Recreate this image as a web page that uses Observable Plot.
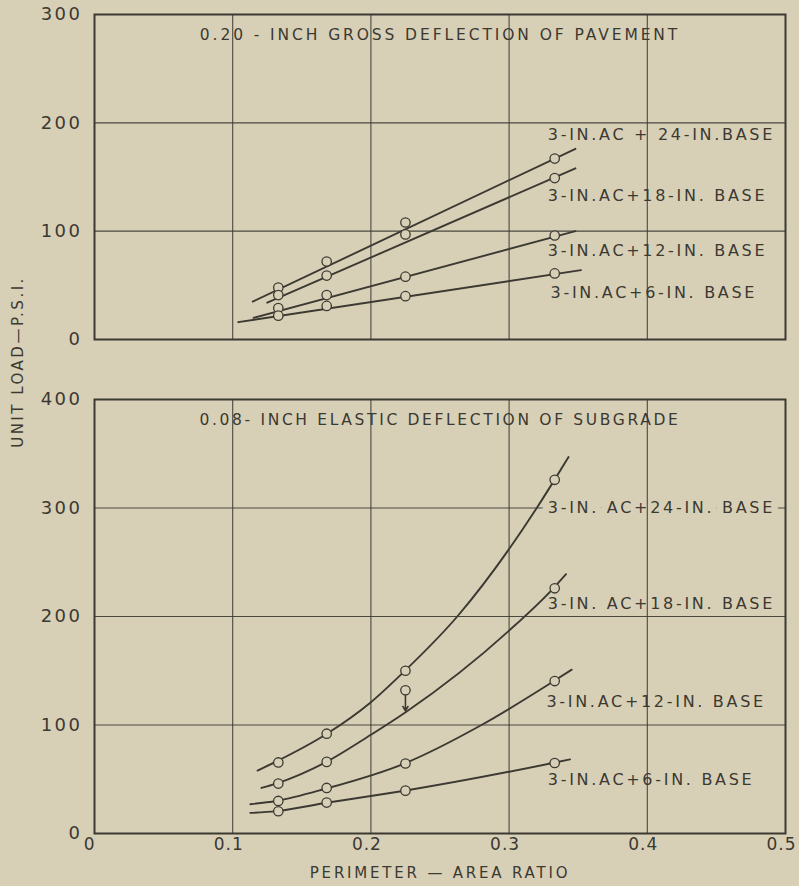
<!DOCTYPE html>
<html><head><meta charset="utf-8">
<script src="https://cdn.jsdelivr.net/npm/d3@7"></script>
<script src="https://cdn.jsdelivr.net/npm/@observablehq/plot@0.6"></script>
<style>
body{margin:0;background:#d8d0b6;}
#wrap{position:relative;width:799px;height:886px;background:#d8d0b6;font-family:"DejaVu Sans",sans-serif;color:#3b3932;overflow:hidden}
#ylab{position:absolute;left:18px;top:362px;transform:translate(-50%,-50%) rotate(-90deg);white-space:nowrap;font-size:15px;letter-spacing:2.5px}
#topPanel{position:absolute;left:0;top:0}
#botPanel{position:absolute;left:0;top:360px}
</style></head><body>
<div id="wrap"><div id="topPanel"></div><div id="botPanel"></div><div id="ylab">UNIT LOAD—P.S.I.</div></div>
<script>
// ---- data ----
const series = ["24", "18", "12", "6"];
const ratios = [0.133, 0.168, 0.225, 0.333];

// 0.20-inch gross deflection of pavement: observed points
const gross24 = [48, 72, 108, 167];
const gross18 = [41, 59, 97, 149];
const gross12 = [29, 41, 58, 96];
const gross6  = [22, 31, 40, 61];
// fitted lines (x, y)
const grossFit24 = [[0.1145, 35], [0.348, 176]];
const grossFit18 = [[0.125, 34], [0.348, 158]];
const grossFit12 = [[0.115, 20], [0.348, 100]];
const grossFit6  = [[0.104, 16], [0.352, 64]];
const grossLabels = ["3-IN.AC + 24-IN.BASE", "3-IN.AC+18-IN. BASE", "3-IN.AC+12-IN. BASE", "3-IN.AC+6-IN. BASE"];
const grossLabelX = [0.328, 0.328, 0.328, 0.330];
const grossLabelY = [189, 133, 82, 43];

// 0.08-inch elastic deflection of subgrade: observed points
const elastic24 = [65.5, 92, 150, 326];
const elastic18 = [46, 66, 132, 226];
const elastic12 = [30, 42, 64.5, 140.5];
const elastic6  = [20.5, 28.5, 39.5, 65];
// fitted curves (x, y)
const elasticFit24 = [[0.118, 58], [0.131, 66], [0.167, 91], [0.2, 121], [0.223, 148], [0.2625, 200], [0.32, 300], [0.3324, 325], [0.343, 347]];
const elasticFit18 = [[0.1208, 42], [0.1315, 46], [0.1678, 66], [0.2, 91], [0.2254, 112], [0.3, 187], [0.332, 226], [0.3412, 239]];
const elasticFit12 = [[0.1128, 27], [0.1315, 30], [0.1678, 41.5], [0.2242, 64.5], [0.28, 100], [0.3324, 140.5], [0.3453, 151]];
const elasticFit6  = [[0.1128, 19], [0.1315, 20.6], [0.1678, 28.3], [0.2242, 39.4], [0.3324, 65.2], [0.3441, 68.3]];
const elasticLabels = ["3-IN. AC+24-IN. BASE", "3-IN. AC+18-IN. BASE", "3-IN.AC+12-IN. BASE", "3-IN.AC+6-IN. BASE"];
const elasticLabelX = [0.328, 0.328, 0.327, 0.328];
const elasticLabelY = [300, 212, 121, 49];
// correction arrow on the 18-in series (from plotted point down to the curve)
const arrowX = [0.225];
const arrowFrom = [127];
const arrowTo = [113];

const xTicks = [0, 0.1, 0.2, 0.3, 0.4, 0.5];
const grossYTicks = [0, 100, 200, 300];
const elasticYTicks = [0, 100, 200, 300, 400];
const titleTop = "0.20 - INCH GROSS DEFLECTION OF PAVEMENT";
const titleBottom = "0.08- INCH ELASTIC DEFLECTION OF SUBGRADE";
const xLabel = "PERIMETER — AREA RATIO";

// ---- build tables ----
const BG = "#d8d0b6", INK = "#3b3932";
function pts(values) {
  return values.flatMap((vals, i) => vals.map((v, j) => ({s: series[i], x: ratios[j], y: v})));
}
function fits(arrs) {
  return arrs.flatMap((a, i) => a.map(([x, y]) => ({s: series[i], x, y})));
}
function labs(texts, xs, ys) {
  return texts.map((t, i) => ({text: t, x: xs[i], y: ys[i]}));
}
const grossPts = pts([gross24, gross18, gross12, gross6]);
const grossFits = fits([grossFit24, grossFit18, grossFit12, grossFit6]);
const grossLab = labs(grossLabels, grossLabelX, grossLabelY);
const elasticPts = pts([elastic24, elastic18, elastic12, elastic6]);
const elasticFits = fits([elasticFit24, elasticFit18, elasticFit12, elasticFit6]);
const elasticLab = labs(elasticLabels, elasticLabelX, elasticLabelY);
const arrows = arrowX.map((x, i) => ({x, y1: arrowFrom[i], y2: arrowTo[i]}));

const common = {
  width: 799,
  marginLeft: 94,
  marginRight: 14,
  style: {background: "transparent", color: INK, fontFamily: "DejaVu Sans, sans-serif"}
};
const gridStyle = {stroke: INK, strokeOpacity: 0.9, strokeWidth: 1.1};

const topPlot = Plot.plot({
  ...common,
  height: 360,
  marginTop: 14,
  marginBottom: 21,
  x: {domain: [0, 0.5], axis: null},
  y: {domain: [0, 300], axis: null},
  marks: [
    Plot.gridX([0.1, 0.2, 0.3, 0.4], gridStyle),
    Plot.gridY([100, 200], gridStyle),
    Plot.frame({stroke: INK, strokeWidth: 2}),
    Plot.axisY(grossYTicks, {tickSize: 0, tickPadding: 12, fontSize: 18, label: null, tickFormat: d => String(d)}),
    Plot.line(grossFits, {x: "x", y: "y", z: "s", stroke: INK, strokeWidth: 1.9}),
    Plot.dot(grossPts, {x: "x", y: "y", r: 4.7, fill: BG, stroke: INK, strokeWidth: 1.3}),
    Plot.text(grossLab, {x: "x", y: "y", text: "text", textAnchor: "start", fontSize: 16, fill: INK}),
    Plot.text([titleTop], {frameAnchor: "top", dy: 14, fontSize: 15.5, fill: INK})
  ]
});
document.getElementById("topPanel").appendChild(topPlot);

const botPlot = Plot.plot({
  ...common,
  height: 526,
  marginTop: 39,
  marginBottom: 53,
  x: {domain: [0, 0.5], axis: null},
  y: {domain: [0, 400], axis: null},
  marks: [
    Plot.gridY([100, 200, 300], gridStyle),
    // knock the 300 grid line out behind the top label
    Plot.text(elasticLab.slice(0, 1), {x: "x", y: "y", text: "text", textAnchor: "start", fontSize: 16, fill: BG, stroke: BG, strokeWidth: 14}),
    Plot.gridX([0.1, 0.2, 0.3, 0.4], gridStyle),
    Plot.frame({stroke: INK, strokeWidth: 2}),
    Plot.axisY(elasticYTicks, {tickSize: 0, tickPadding: 12, fontSize: 18, label: null, tickFormat: d => String(d)}),
    Plot.axisX(xTicks, {tickSize: 0, tickPadding: 4, fontSize: 17, dx: -4, label: null, tickFormat: d => String(d)}),
    Plot.line(elasticFits, {x: "x", y: "y", z: "s", stroke: INK, strokeWidth: 1.9, curve: "monotone-x"}),
    Plot.arrow(arrows, {x1: "x", x2: "x", y1: "y1", y2: "y2", stroke: INK, strokeWidth: 1.6, headLength: 5}),
    Plot.dot(elasticPts, {x: "x", y: "y", r: 4.7, fill: BG, stroke: INK, strokeWidth: 1.3}),
    Plot.text(elasticLab, {x: "x", y: "y", text: "text", textAnchor: "start", fontSize: 16, fill: INK}),
    Plot.text([titleBottom], {frameAnchor: "top", dy: 14, fontSize: 15.5, fill: INK}),
    Plot.text([xLabel], {frameAnchor: "bottom", dy: 44, fontSize: 15, fill: INK})
  ]
});
document.getElementById("botPanel").appendChild(botPlot);

// letter spacing by text role (drafting-style lettering)
const seriesTexts = new Set([...grossLabels, ...elasticLabels]);
for (const svg of [topPlot, botPlot]) {
  svg.querySelectorAll("text").forEach(t => {
    const c = t.textContent;
    let ls = "2.5px";
    if (c === titleTop) ls = "2.9px";
    else if (c === titleBottom) ls = "2.65px";
    else if (seriesTexts.has(c)) ls = "2.7px";
    else if (c === xLabel) ls = "2.8px";
    else if (c.includes(".")) ls = "1px";
    t.setAttribute("letter-spacing", ls);
    t.style.letterSpacing = ls;
  });
}
</script>
</body></html>
